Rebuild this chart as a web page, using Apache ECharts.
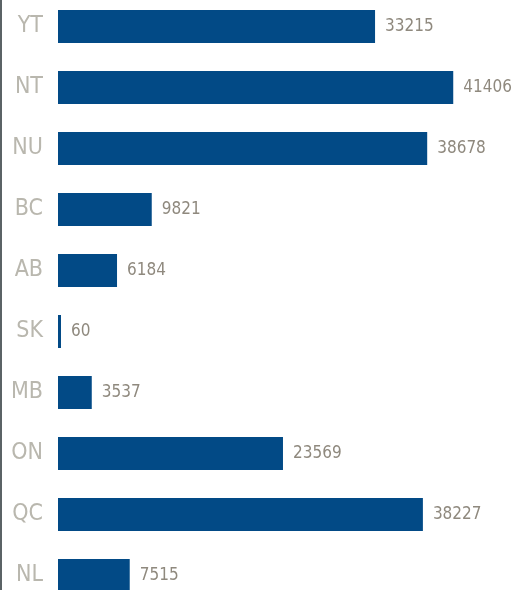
<!DOCTYPE html>
<html>
<head>
<meta charset="utf-8">
<script src="https://cdn.jsdelivr.net/npm/echarts@6/dist/echarts.min.js"></script>
<style>
html,body{margin:0;padding:0;background:#fff;overflow:hidden;width:520px;height:590px;}
#c{position:absolute;left:0;top:-4px;width:520px;height:610px;}
#line{position:absolute;left:0;top:0;width:2px;height:590px;background:#5b6366;}
</style>
</head>
<body>
<div id="c"></div>
<div id="line"></div>
<script>
var categories = ["YT", "NT", "NU", "BC", "AB", "SK", "MB", "ON", "QC", "NL"];
var values = [33215, 41406, 38678, 9821, 6184, 60, 3537, 23569, 38227, 7515];

var chart = echarts.init(document.getElementById('c'), null, {renderer: 'canvas'});
chart.setOption({
  animation: false,
  grid: {left: 58, top: 0, right: 0, bottom: 0, containLabel: false},
  xAxis: {type: 'value', min: 0, max: 48400, show: false},
  yAxis: {
    type: 'category',
    data: categories,
    inverse: true,
    axisLine: {show: false},
    axisTick: {show: false},
    splitLine: {show: false},
    axisLabel: {
      margin: 15,
      color: '#b9b7ae',
      fontFamily: 'DejaVu Sans Condensed, sans-serif',
      fontSize: 23
    }
  },
  series: [{
    type: 'bar',
    data: values,
    barWidth: 33,
    barMinHeight: 3,
    itemStyle: {color: '#024a86'},
    label: {
      show: true,
      position: 'right',
      distance: 10,
      color: '#8f897e',
      fontFamily: 'DejaVu Sans Condensed, sans-serif',
      fontSize: 17
    }
  }]
});
</script>
</body>
</html>
